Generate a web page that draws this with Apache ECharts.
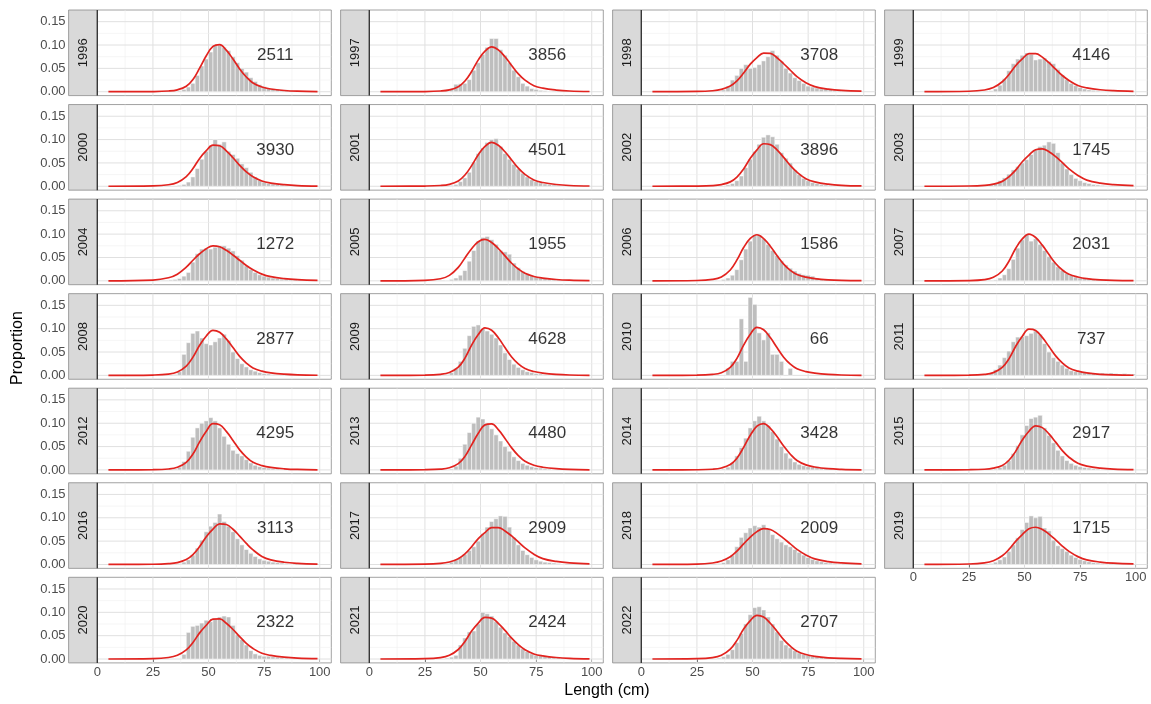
<!DOCTYPE html>
<html><head><meta charset="utf-8">
<script src="https://cdn.jsdelivr.net/npm/echarts/dist/echarts.min.js"></script>
<style>html,body{margin:0;padding:0;background:#fff}#c{width:1151px;height:704px}</style>
</head><body><div id="c"></div>
<script>
const YEARS = ['1996','1997','1998','1999','2000','2001','2002','2003','2004','2005','2006','2007','2008','2009','2010','2011','2012','2013','2014','2015','2016','2017','2018','2019','2020','2021','2022'];
const COUNTS = [2511,3856,3708,4146,3930,4501,3896,1745,1272,1955,1586,2031,2877,4628,66,737,4295,4480,3428,2917,3113,2909,2009,1715,2322,2424,2707];

// 2 cm length bins (mid points)
const BIN_MID = [33,35,37,39,41,43,45,47,49,51,53,55,57,59,61,63,65,67,69,71,73,75,77,79,81,83,85,87,89,91,93,95,97,99];
const BIN_W = 2;
const B1996 = [0,0,.002,.005,.01, .018,.035,.055,.07,.085, .1,.1,.095,.088,.075, .062,.05,.042,.03,.022, .015,.011,.008,.006,.005, .004,.004,.003,.002,.001, 0,0,0,0];
const B1997 = [0,.002,.006,.016,.017, .018,.026,.046,.062,.08, .095,.114,.114,.09,.078, .062,.046,.032,.018,.012, .007,.005,.003,.002,.001, 0,0,0,0,0, 0,0,0,0];
const B1998 = [0,0,.004,.012,.025, .035,.05,.058,.05,.052, .058,.066,.075,.088,.078, .065,.05,.04,.03,.024, .018,.012,.01,.008,.006, .007,.005,.003,.002,0, 0,0,0,0];
const B1999 = [0,.002,.006,.014,.028, .045,.06,.07,.078,.083, .08,.068,.07,.072,.065, .06,.048,.036,.026,.018, .013,.009,.006,.004,.003, .002,.001,0,0,0, 0,0,0,0];
const B2000 = [0,0,.002,.004,.009, .02,.038,.058,.075,.088, .1,.09,.095,.075,.068, .06,.048,.04,.03,.02, .013,.009,.006,.005,.004, .003,.002,.001,0,0, 0,0,0,0];
const B2001 = [0,0,.002,.004,.01, .018,.03,.052,.07,.082, .094,.1,.102,.085,.07, .058,.047,.037,.028,.02, .014,.01,.007,.005,.004, .003,.002,.001,0,0, 0,0,0,0];
const B2002 = [0,0,0,.003,.006, .012,.022,.04,.058,.075, .09,.105,.11,.106,.09, .072,.06,.05,.035,.025, .017,.012,.008,.006,.004, .003,.002,.001,0,0, 0,0,0,0];
const B2003 = [.002,.004,.007,.012,.018, .026,.035,.042,.05,.057, .068,.078,.085,.088,.095, .092,.072,.05,.037,.025, .017,.012,.008,.006,.004, .003,.002,.001,0,0, 0,0,0,0];
const B2004 = [.002,.003,.005,.01,.018, .04,.058,.068,.07,.068, .072,.075,.075,.07,.064, .054,.044,.032,.024,.018, .013,.01,.008,.006,.005, .004,.004,.003,.004,.002, .001,0,0,0];
const B2005 = [0,.001,.003,.006,.012, .022,.042,.065,.085,.093, .095,.088,.078,.065,.062, .057,.038,.028,.02,.015, .011,.008,.006,.005,.004, .003,.002,.001,0,0, 0,0,0,0];
const B2006 = [0,.001,.003,.006,.012, .024,.045,.068,.085,.098, .098,.09,.078,.065,.054, .043,.034,.027,.021,.016, .013,.012,.01,.006,.004, .003,.002,.001,0,0, 0,0,0,0];
const B2007 = [0,0,.002,.006,.013, .026,.046,.07,.088,.1, .085,.09,.078,.065,.052, .04,.03,.022,.016,.012, .008,.006,.005,.004,.003, .003,.002,.003,.002,.001, 0,0,0,0];
const B2008 = [0,.002,.008,.045,.07, .09,.095,.08,.068,.065, .072,.08,.088,.075,.05, .036,.025,.018,.012,.009, .006,.004,.003,.002,.001, 0,0,0,0,0, 0,0,0,0];
const B2009 = [0,.002,.006,.015,.03, .058,.085,.105,.108,.1, .095,.088,.08,.065,.048, .034,.024,.017,.012,.008, .006,.004,.003,.002,.001, 0,0,0,0,0, 0,0,0,0];
const B2010 = [0,0,0,.015,.03, .03,.121,.03,.167,.152, .091,.076,.091,.045,.045, .03,0,.015,0,0, 0,0,0,0,0, 0,0,0,0,0, 0,0,0,0];
const B2011 = [.003,.005,.012,.022,.038, .052,.072,.082,.083,.085, .09,.095,.088,.068,.05, .038,.03,.022,.015,.01, .008,.007,.006,.005,.005, .004,.005,.004,.005,.004, .003,.004,.003,.003];
const B2012 = [0,.002,.006,.018,.04, .07,.09,.1,.105,.112, .105,.09,.072,.055,.042, .035,.03,.022,.015,.01, .007,.005,.004,.003,.002, .001,0,0,0,0, 0,0,0,0];
const B2013 = [0,0,.002,.008,.025, .055,.08,.1,.113,.109, .1,.088,.075,.062,.05, .04,.028,.02,.014,.01, .007,.005,.004,.003,.002, .001,0,0,0,0, 0,0,0,0];
const B2014 = [0,0,.002,.006,.015, .03,.048,.068,.09,.105, .115,.105,.095,.082,.066, .05,.036,.025,.017,.012, .009,.007,.006,.007,.004, .003,.002,.001,0,0, 0,0,0,0];
const B2015 = [0,0,.002,.005,.01, .02,.035,.052,.075,.095, .11,.113,.117,.09,.074, .058,.042,.03,.02,.014, .01,.007,.005,.004,.003, .002,.001,0,0,0, 0,0,0,0];
const B2016 = [0,0,.002,.005,.01, .02,.035,.052,.07,.082, .09,.108,.092,.082,.07, .055,.042,.032,.024,.017, .012,.009,.007,.005,.004, .003,.002,.001,0,0, 0,0,0,0];
const B2017 = [0,.002,.005,.01,.016, .022,.03,.038,.05,.066, .08,.092,.098,.104,.103, .08,.058,.042,.03,.021, .015,.01,.007,.005,.004, .003,.002,.001,0,0, 0,0,0,0];
const B2018 = [0,.002,.004,.01,.02, .038,.058,.068,.078,.083, .08,.085,.076,.064,.055, .048,.042,.038,.032,.026, .02,.015,.011,.008,.006, .004,.003,.002,.001,0, 0,0,0,0];
const B2019 = [0,.002,.005,.01,.016, .028,.042,.057,.075,.09, .104,.1,.103,.078,.072, .052,.04,.034,.028,.02, .015,.011,.008,.006,.004, .003,.002,.001,0,0, 0,0,0,0];
const B2020 = [0,0,0,.01,.057, .07,.072,.077,.083,.08, .085,.09,.092,.09,.072, .052,.042,.03,.018,.011, .008,.006,.006,.005,.004, .003,.002,.001,0,0, 0,0,0,0];
const B2021 = [0,.002,.004,.008,.03, .045,.058,.06,.075,.1, .097,.092,.08,.068,.056, .048,.038,.03,.022,.016, .011,.008,.007,.006,.005, .004,.003,.002,.001,0, 0,0,0,0];
const B2022 = [0,.002,.005,.01,.02, .035,.055,.075,.095,.11, .112,.105,.09,.075,.058, .04,.03,.024,.018,.013, .01,.008,.006,.005,.004, .003,.002,.001,0,0, 0,0,0,0];
const BARS = [B1996,B1997,B1998,B1999,B2000,B2001,B2002,B2003,B2004,B2005,B2006,B2007,B2008,B2009,B2010,B2011,B2012,B2013,B2014,B2015,B2016,B2017,B2018,B2019,B2020,B2021,B2022];

// fitted curve, read at these lengths
const CURVE_X = [5,25,32,36,40,43,46,49,52,55,58,61,64,67,70,74,78,84,90,99];
const F1996 = [0,.0004,.0015,.0041,.0117,.0261,.0505,.077,.097,.101,.089,.0699,.0489,.0316,.0187,.0101,.0058,.0026,.0011,.0003];
const F1997 = [0,.0004,.0015,.0039,.0108,.0229,.0432,.0682,.0868,.096,.0896,.0748,.0563,.0382,.0248,.013,.0076,.0036,.0015,.0005];
const F1998 = [0,.0006,.0021,.005,.0121,.0231,.0399,.059,.0732,.0828,.082,.0728,.0599,.046,.0322,.0192,.0109,.0055,.0027,.0011];
const F1999 = [.0001,.001,.0037,.0089,.0214,.0368,.0557,.0701,.0815,.0817,.074,.0621,.0482,.0347,.0241,.0135,.0083,.0042,.0022,.0008];
const F2000 = [0,.0008,.0032,.0083,.0209,.038,.0597,.0763,.0881,.0867,.076,.061,.0449,.0309,.0202,.0112,.0069,.0035,.0016,.0005];
const F2001 = [0,.0005,.0016,.0041,.0113,.024,.0442,.0677,.0853,.094,.0879,.0739,.0563,.0388,.0254,.0134,.008,.0038,.0017,.0006];
const F2002 = [0,.0005,.0015,.0037,.0094,.0196,.0371,.0599,.0781,.0911,.0892,.0779,.0618,.0445,.0301,.0162,.0094,.0045,.0021,.0007];
const F2003 = [0,.0006,.002,.0045,.0105,.0203,.0345,.0525,.0667,.0783,.0802,.0741,.0636,.0506,.0372,.0232,.0132,.0066,.0035,.0014];
const F2004 = [.0001,.0017,.0066,.0143,.0292,.0441,.058,.0689,.0747,.0729,.0653,.0553,.044,.0328,.0236,.0143,.0089,.0048,.0026,.0011];
const F2005 = [0,.0011,.0045,.0116,.0287,.049,.0687,.0837,.0886,.0821,.0692,.0534,.0376,.0254,.016,.0093,.0059,.0028,.0013,.0004];
const F2006 = [0,.0007,.003,.0083,.0232,.0448,.0712,.0907,.0987,.0905,.074,.054,.0358,.0225,.0136,.0079,.0047,.0021,.0009,.0003];
const F2007 = [0,.0006,.0026,.0075,.021,.042,.0692,.0897,.1,.0928,.0764,.0562,.0371,.0232,.0139,.0081,.0047,.0021,.0009,.0003];
const F2008 = [0,.0007,.0026,.0073,.0199,.039,.0645,.0844,.0965,.0923,.0781,.0596,.0407,.0264,.0159,.009,.0053,.0025,.0011,.0003];
const F2009 = [0,.0005,.0022,.006,.0176,.0369,.0647,.0874,.1015,.0965,.0805,.0596,.0394,.0245,.0146,.0082,.0048,.0021,.0008,.0002];
const F2010 = [0,.0005,.0021,.0057,.0171,.0364,.0647,.0882,.1029,.0978,.081,.0595,.0389,.024,.0142,.0081,.0047,.002,.0008,.0002];
const F2011 = [0,.0005,.0021,.0059,.017,.0354,.0619,.084,.099,.0961,.0813,.0618,.0418,.0266,.0158,.009,.0052,.0023,.001,.0003];
const F2012 = [0,.0005,.002,.0056,.0162,.034,.06,.0826,.099,.0969,.0825,.0632,.043,.0276,.0163,.0092,.0053,.0024,.001,.0003];
const F2013 = [0,.0005,.0017,.0046,.0134,.029,.0536,.0784,.0965,.0984,.0862,.0675,.0472,.0307,.0184,.01,.0058,.0026,.0011,.0003];
const F2014 = [0,.0004,.0015,.0041,.0115,.0252,.0483,.0743,.0937,.0993,.0892,.0714,.051,.0336,.0202,.0108,.0063,.0027,.0012,.0003];
const F2015 = [0,.0004,.0014,.0038,.0097,.0207,.0397,.0642,.0829,.0945,.0906,.0771,.0595,.0413,.0272,.0142,.0083,.0039,.0017,.0006];
const F2016 = [0,.0005,.0018,.0041,.0106,.0211,.0383,.0596,.0757,.0871,.0857,.0754,.0608,.0451,.0312,.0173,.01,.0048,.0024,.0009];
const F2017 = [.0001,.0007,.0023,.0054,.0123,.0226,.038,.0554,.0683,.0788,.079,.0718,.0611,.0482,.0354,.022,.0126,.0065,.0034,.0014];
const F2018 = [.0001,.0009,.0032,.0073,.0165,.0285,.044,.0588,.0704,.0767,.0748,.0666,.0558,.044,.0323,.0203,.0119,.0062,.0034,.0014];
const F2019 = [.0001,.001,.0034,.0079,.0186,.0322,.0495,.064,.0763,.0797,.0749,.065,.0526,.0393,.028,.0168,.0098,.0052,.0027,.0011];
const F2020 = [0,.0008,.0032,.0079,.0195,.0355,.056,.0723,.0853,.0858,.0766,.0632,.0481,.0334,.0225,.0124,.0077,.0039,.0019,.0007];
const F2021 = [0,.0008,.0031,.008,.0204,.0376,.0598,.0769,.0891,.0876,.0766,.0613,.0447,.0306,.0197,.0109,.0068,.0033,.0015,.0005];
const F2022 = [0,.0008,.003,.008,.0211,.04,.0643,.0823,.0935,.0898,.0766,.0595,.0415,.0274,.0169,.0096,.0057,.0026,.0012,.0004];
const FITS = [F1996,F1997,F1998,F1999,F2000,F2001,F2002,F2003,F2004,F2005,F2006,F2007,F2008,F2009,F2010,F2011,F2012,F2013,F2014,F2015,F2016,F2017,F2018,F2019,F2020,F2021,F2022];

// axes
const X_TICKS = [0,25,50,75,100];
const Y_TICKS = [0,0.05,0.10,0.15];
const X_MAJOR = [25,50,75,100], X_MINOR = [12.5,37.5,62.5,87.5];
const Y_MAJOR = [0,0.05,0.10,0.15], Y_MINOR = [0.025,0.075,0.125];
const XMIN = 0, XMAX = 105.2, YMIN = -0.0083, YMAX = 0.175;
const LABEL_AT = [80, 0.078];

// layout
const FONT = '"Liberation Sans", Arial, Helvetica, sans-serif';
const LX0 = 97.3, LDX = 272, PW = 234, LY0 = 10, LDY = 94.55, PH = 85.6, SW = 28.7;
const NCOL = 4;

const GRID_LINES = [].concat(
  X_MAJOR.map(v => [v, 0, 0, 0]), X_MINOR.map(v => [v, 0, 0, 1]),
  Y_MAJOR.map(v => [0, v, 1, 0]), Y_MINOR.map(v => [0, v, 1, 1]));

function renderGrid(params, api) {
  const dir = api.value(2), minor = api.value(3);
  let p1, p2;
  if (dir === 0) { const v = api.value(0); p1 = api.coord([v, YMIN]); p2 = api.coord([v, YMAX]); }
  else { const v = api.value(1); p1 = api.coord([XMIN, v]); p2 = api.coord([XMAX, v]); }
  return { type: 'line', shape: { x1: p1[0], y1: p1[1], x2: p2[0], y2: p2[1] },
    style: { stroke: minor ? '#efefef' : '#e0e0e0', lineWidth: minor ? 0.6 : 1 } };
}
function renderBar(params, api) {
  const x = api.value(0), v = api.value(1);
  const a = api.coord([x - BIN_W / 2, v]), b = api.coord([x + BIN_W / 2, 0]);
  return { type: 'rect', shape: { x: a[0], y: a[1], width: b[0] - a[0], height: b[1] - a[1] },
    style: { fill: '#bebebe', stroke: '#ffffff', lineWidth: 0.5 } };
}
function isMult(v, step) { const r = v / step; return Math.abs(r - Math.round(r)) < 1e-6; }

const grids = [], xAxes = [], yAxes = [], series = [], graphics = [];
YEARS.forEach((yr, i) => {
  const row = Math.floor(i / NCOL), col = i % NCOL;
  const left = LX0 + col * LDX, top = LY0 + row * LDY;
  const showX = i >= YEARS.length - NCOL;
  const showY = col === 0;
  grids.push({ left: left, top: top, width: PW, height: PH, show: true, backgroundColor: '#fff',
    borderColor: '#8a8a8a', borderWidth: 0.8 });
  xAxes.push({ gridIndex: i, type: 'value', min: XMIN, max: XMAX, interval: 25,
    axisLine: { show: false }, splitLine: { show: false },
    axisTick: { show: showX, length: 3, customValues: X_TICKS, lineStyle: { color: '#333', width: 1 } },
    axisLabel: { show: showX, customValues: X_TICKS, margin: 3, color: '#4d4d4d', fontSize: 13, fontFamily: FONT,
      formatter: v => isMult(v, 25) ? String(v) : '' } });
  yAxes.push({ gridIndex: i, type: 'value', min: YMIN, max: YMAX, splitNumber: 4, offset: SW,
    axisLine: { show: false }, splitLine: { show: false },
    axisTick: { show: showY, length: 3, customValues: Y_TICKS, lineStyle: { color: '#333', width: 1 } },
    axisLabel: { show: showY, customValues: Y_TICKS, margin: 3, color: '#4d4d4d', fontSize: 13, fontFamily: FONT,
      formatter: v => isMult(v, 0.05) ? v.toFixed(2) : '' } });
  series.push({ type: 'custom', xAxisIndex: i, yAxisIndex: i, renderItem: renderGrid, data: GRID_LINES,
    encode: { x: 0, y: 1 }, z: 1, silent: true });
  series.push({ type: 'custom', xAxisIndex: i, yAxisIndex: i, renderItem: renderBar,
    data: BIN_MID.map((x, k) => [x, BARS[i][k]]).filter(d => d[1] > 0), encode: { x: 0, y: 1 }, z: 2, silent: true });
  series.push({ type: 'line', xAxisIndex: i, yAxisIndex: i, data: CURVE_X.map((x, k) => [x, FITS[i][k]]),
    smooth: 0.4, symbol: 'none', lineStyle: { color: '#e2231f', width: 1.7 }, z: 3, silent: true });
  series.push({ type: 'scatter', xAxisIndex: i, yAxisIndex: i, data: [LABEL_AT], symbolSize: 1,
    itemStyle: { color: 'rgba(0,0,0,0)' }, z: 4, silent: true,
    label: { show: true, position: 'inside', formatter: String(COUNTS[i]), fontSize: 17, color: '#000', fontFamily: FONT } });
  graphics.push({ type: 'rect', z: 50, shape: { x: left - SW, y: top, width: SW, height: PH },
    style: { fill: '#d9d9d9', stroke: '#8a8a8a', lineWidth: 0.8 } });
  graphics.push({ type: 'text', z: 51, x: left - SW / 2, y: top + PH / 2, rotation: Math.PI / 2,
    style: { text: yr, fill: '#1a1a1a', font: '13px ' + FONT, align: 'center', verticalAlign: 'middle' } });
  graphics.push({ type: 'line', z: 52, shape: { x1: left, y1: top, x2: left, y2: top + PH },
    style: { stroke: '#333', lineWidth: 1.3 } });
});
graphics.push({ type: 'text', z: 60, x: 18, y: 348, rotation: Math.PI / 2,
  style: { text: 'Proportion', fill: '#000', font: '16px ' + FONT, align: 'center', verticalAlign: 'middle' } });
graphics.push({ type: 'text', z: 60, x: 607, y: 691,
  style: { text: 'Length (cm)', fill: '#000', font: '16px ' + FONT, align: 'center', verticalAlign: 'middle' } });

const chart = echarts.init(document.getElementById('c'), null, { renderer: 'canvas' });
chart.setOption({ animation: false, backgroundColor: '#fff', grid: grids, xAxis: xAxes, yAxis: yAxes,
  series: series, graphic: { elements: graphics } });
</script></body></html>
